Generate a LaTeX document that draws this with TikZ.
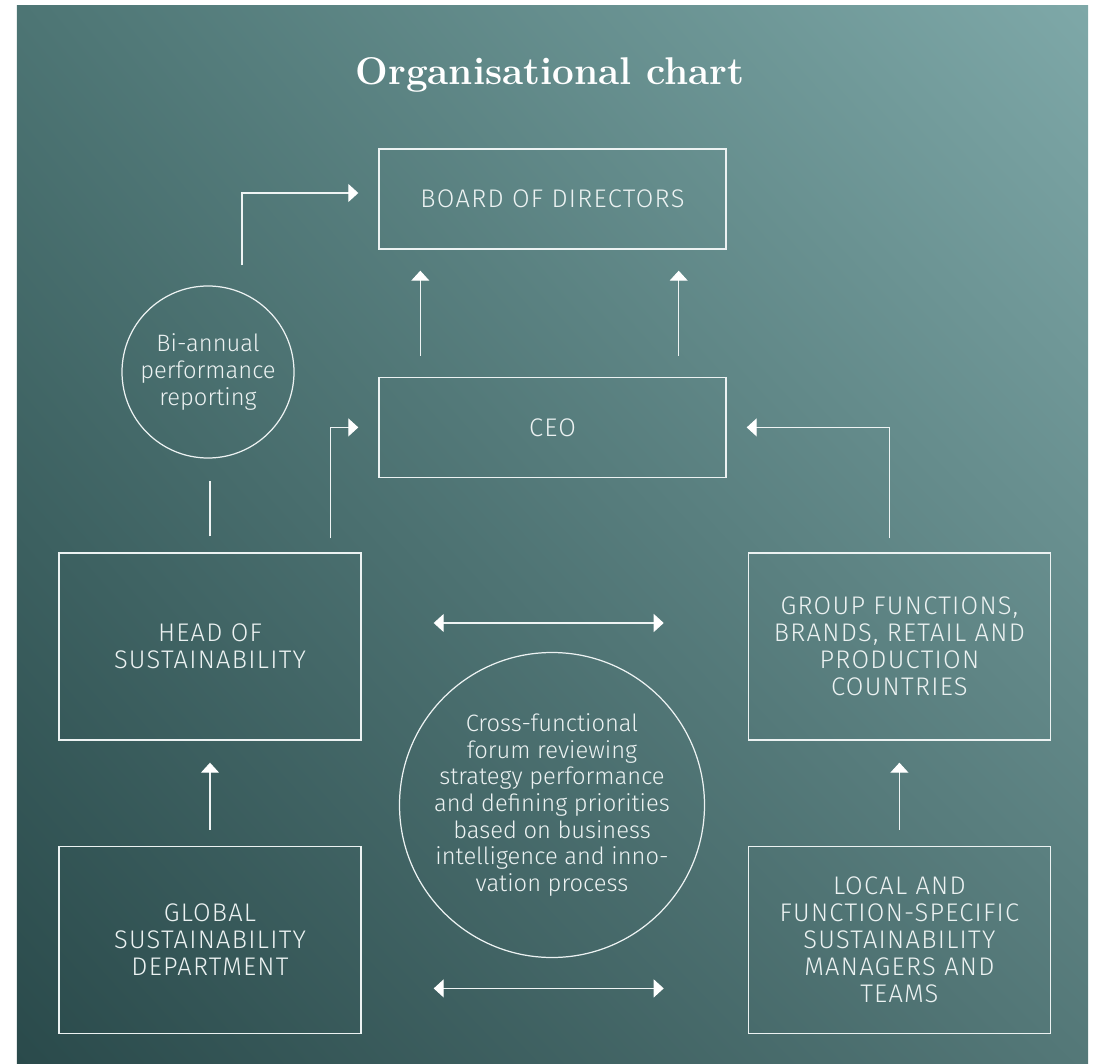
\documentclass[tikz,border=0pt]{standalone}
\usepackage{fontspec}
\setsansfont{Fira Sans Light}
\newfontfamily\capsfont{Fira Sans Light}[LetterSpace=5]
\usepackage{xcolor}
\definecolor{tl}{RGB}{77,117,116}
\definecolor{tr}{RGB}{126,168,168}
\definecolor{bl}{RGB}{42,74,75}
\definecolor{br}{RGB}{84,120,120}
\definecolor{lw}{RGB}{236,242,242}
\usepackage{tikz}
\usetikzlibrary{arrows.meta,positioning,calc,shadings}

\begin{document}
\begin{tikzpicture}[
  node distance=2.54cm and 7.72cm,
  obox/.style={rectangle,draw=lw,line width=0.8pt,inner sep=0pt,align=center,text=lw,font=\capsfont\fontsize{14.5}{15.3}\selectfont},
  wbox/.style={obox,minimum width=6.94cm,minimum height=2cm},
  sbox/.style={obox,minimum width=6.04cm,minimum height=3.74cm},
  ring/.style={circle,draw=lw,line width=0.7pt,inner sep=0pt,align=center,text=lw,font=\sffamily\fontsize{13.5}{15.2}\selectfont},
  arrow/.style={-{Triangle[length=0.2cm,width=0.36cm,color=white]},lw!85,line width=0.6pt},
  dbl/.style={{Triangle[length=0.2cm,width=0.36cm,color=white]}-{Triangle[length=0.2cm,width=0.36cm,color=white]},lw!85,line width=0.6pt},
  link/.style={lw!85,line width=0.6pt}
]
  \useasboundingbox (0,0) rectangle (21.9,-21.28);
  \shade[upper left=tl,upper right=tr,lower left=bl,lower right=br] (0.34,-0.12) rectangle (21.76,-21.28);

  % === Title ===
  \node[anchor=base,text=white,font=\rmfamily\bfseries\fontsize{22}{26}\selectfont] (title) at (11.0,-1.7) {Organisational chart};

  % === Top ===
  \node[wbox] (board) at (11.05,-3.98) {BOARD OF DIRECTORS};
  \node[wbox,below=of board] (ceo) {CEO};
  \node[ring,minimum size=3.44cm] (bi) at (4.16,-7.44) {Bi-annual\\performance\\reporting};

  % === Middle and bottom ===
  \node[sbox] (head) at (4.2,-12.93) {HEAD OF\\SUSTAINABILITY};
  \node[sbox,right=of head] (grp) {GROUP FUNCTIONS,\\BRANDS, RETAIL AND\\PRODUCTION\\COUNTRIES};
  \node[sbox,below=2.1cm of head] (glob) {GLOBAL\\SUSTAINABILITY\\DEPARTMENT};
  \node[sbox,below=2.1cm of grp] (loc) {LOCAL AND\\FUNCTION-SPECIFIC\\SUSTAINABILITY\\MANAGERS AND\\TEAMS};
  \node[ring,minimum size=6.1cm] (forum) at (11.04,-16.1) {Cross-functional\\forum reviewing\\strategy performance\\and defining priorities\\based on business\\intelligence and inno-\\vation process};

  % Connectors
  \draw[arrow,shorten <=0.42cm,shorten >=0.42cm] ([xshift=0.84cm]ceo.north west) -- ([xshift=0.84cm]board.south west);
  \draw[arrow,shorten <=0.42cm,shorten >=0.42cm] ([xshift=-0.96cm]ceo.north east) -- ([xshift=-0.96cm]board.south east);
  \draw[arrow,shorten >=0.4cm] ($(bi.north)+(0.68,0.4)$) |- ([yshift=0.12cm]board.west);
  \draw[link,shorten <=0.32cm,shorten >=0.44cm] (head.north) -- (head.north |- bi.south);
  \draw[arrow,shorten <=0.28cm,shorten >=0.4cm] ([xshift=-0.62cm]head.north east) |- (ceo.west);
  \draw[arrow,shorten <=0.28cm,shorten >=0.4cm] ([xshift=-0.19cm]grp.north) |- (ceo.east);
  \draw[arrow,shorten <=0.32cm,shorten >=0.44cm] (glob.north) -- (head.south);
  \draw[arrow,shorten <=0.32cm,shorten >=0.44cm] (loc.north) -- (grp.south);
  \draw[dbl,shorten <=1.44cm,shorten >=1.68cm] ([yshift=0.47cm]head.east) -- ([yshift=0.47cm]grp.west);
  \draw[dbl,shorten <=1.44cm,shorten >=1.68cm] ([yshift=-0.97cm]glob.east) -- ([yshift=-0.97cm]loc.west);
\end{tikzpicture}
\end{document}
